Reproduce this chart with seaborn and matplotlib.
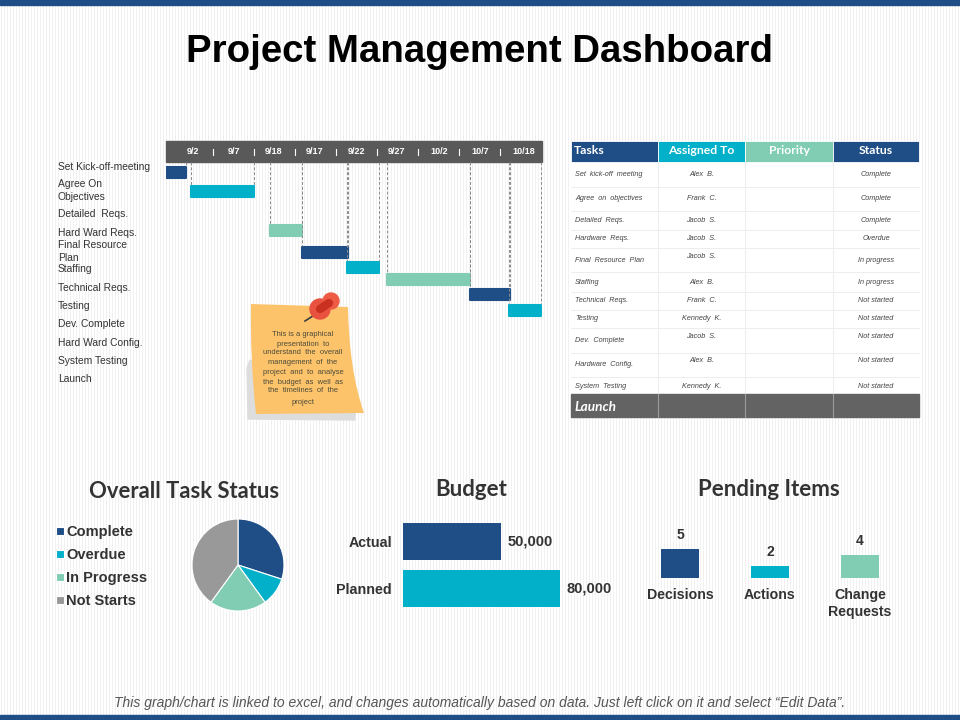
import matplotlib
matplotlib.use('Agg')
import matplotlib.pyplot as plt
from matplotlib.patches import Rectangle, Circle, PathPatch, Polygon
from matplotlib.path import Path
import seaborn as sns

NAVY = '#1F4E87'
TEAL = '#03B0C9'
MINT = '#80CDB3'
GREY = '#999999'
DARK = '#595959'
BG = '#FFFFFF'
STRIPE = '#F1F1F1'
BODY = 'Liberation Sans'
HEAD = 'Lato'

# gantt data, x values are in header columns
gantt_tasks = ["Set Kick-off-meeting", "Agree On\nObjectives", "Detailed  Reqs.", "Hard Ward Reqs.",
               "Final Resource\nPlan", "Staffing", "Technical Reqs.", "Testing", "Dev. Complete",
               "Hard Ward Config.", "System Testing", "Launch"]
gantt_dates = ["9/2", "9/7", "9/18", "9/17", "9/22", "9/27", "10/2", "10/7", "10/18"]
gantt_start = [0.0, 0.6, 2.5, 3.25, 4.33, 5.3, 7.27, 8.2]
gantt_end = [0.48, 2.1, 3.26, 4.36, 5.1, 7.27, 8.23, 8.97]
gantt_colors = [NAVY, TEAL, MINT, NAVY, TEAL, MINT, NAVY, TEAL]

# table data
table_header = ["Tasks", "Assigned To", "Priority", "Status"]
table_tasks = ["Set  kick-off  meeting", "Agree  on  objectives", "Detailed  Reqs.", "Hardware  Reqs.",
               "Final  Resource  Plan", "Staffing", "Technical  Reqs.", "Testing", "Dev.  Complete",
               "Hardware  Config.", "System  Testing"]
table_people = ["Alex  B.", "Frank  C.", "Jacob  S.", "Jacob  S.", "Jacob  S.", "Alex  B.", "Frank  C.",
                "Kennedy  K.", "Jacob  S.", "Alex  B.", "Kennedy  K."]
table_status = ["Complete", "Complete", "Complete", "Overdue", "In progress", "In progress", "Not started",
                "Not started", "Not started", "Not started", "Not started"]

# lower charts
status_labels = ["Complete", "Overdue", "In Progress", "Not Starts"]
status_values = [30, 10, 20, 40]
budget_labels = ["Actual", "Planned"]
budget_values = [50000, 80000]
pending_labels = ["Decisions", "Actions", "Change\nRequests"]
pending_values = [5, 2, 4]

note_lines = ["This is a graphical", "presentation  to", "understand  the  overall", "management  of  the",
              "project  and  to  analyse", "the  budget  as  well  as", "the  timelines  of  the", "project"]

# layout, all in reference pixels
gantt_label_y = [166.5, 190.5, 214, 233, 251.5, 269, 288, 306, 324, 343, 361, 379]
gantt_bar_y = [172, 191, 230, 252, 267, 279, 294, 310]
date_x = [193, 234, 274, 315, 356, 397, 439, 480, 524]
sep_x = [213, 254, 295, 336, 377, 418, 459, 500]
col_x = [571, 658, 745, 833, 919]
row_y = [162, 187, 211, 230, 248, 272, 292, 310, 328, 353, 377, 394, 417]
task_y = [175, 199, 221, 239, 261, 282, 301, 319, 341, 365, 386]
people_y = [175, 199, 221, 239, 256, 282, 301, 319, 336, 360, 386]
status_y = [175, 199, 221, 239, 261, 282, 301, 319, 336, 360, 386]
note_y = [334, 344, 353, 363, 372, 382, 391, 402]


def px_axes(fig, left, top, right, bottom):
    # axes box given in pixels from the top left corner
    ax = fig.add_axes([left / 960, 1 - bottom / 720, (right - left) / 960, (bottom - top) / 720])
    ax.patch.set_alpha(0)
    return ax


def draw_background(ax):
    # faint slide texture, has to stay under every other mark
    ax.vlines(range(1, 960, 3), 0, 720, color=STRIPE, lw=0.72, zorder=0)
    ax.add_patch(Rectangle((0, 0), 960, 5, color=NAVY))
    ax.add_patch(Rectangle((0, 715), 960, 5, color=NAVY))
    ax.text(480, 52, "Project Management Dashboard", ha='center', va='center', fontsize=27.6,
            fontweight='bold', family=BODY, color='black')
    ax.text(184, 491, "Overall Task Status", ha='center', va='center', fontsize=15.8, fontweight='bold',
            family=HEAD, color='#333333')
    ax.text(471, 490, "Budget", ha='center', va='center', fontsize=16, fontweight='bold',
            family=HEAD, color='#333333')
    ax.text(769, 490, "Pending Items", ha='center', va='center', fontsize=16, fontweight='bold',
            family=HEAD, color='#333333')
    ax.text(480, 703, "This graph/chart is linked to excel, and changes automatically based on data. "
            "Just left click on it and select \u201cEdit Data\u201d.", ha='center', va='center',
            fontsize=10, style='italic', family=BODY, color='#555555')


def draw_gantt_labels(ax):
    ax.add_patch(Rectangle((166, 141), 376, 21, color=DARK))
    for x, label in zip(date_x, gantt_dates):
        ax.text(x, 152, label, ha='center', va='center', fontsize=6.5, fontweight='bold',
                family=BODY, color='white')
    for x in sep_x:
        ax.plot([x, x], [149, 155], color='white', lw=0.8)
    for y, label in zip(gantt_label_y, gantt_tasks):
        ax.text(58, y, label, ha='left', va='center', fontsize=7.4, family=BODY, color='#333333',
                linespacing=1.38)


def draw_gantt(fig):
    ax = px_axes(fig, 166, 162, 542, 320)
    for y, start, end, color in zip(gantt_bar_y, gantt_start, gantt_end, gantt_colors):
        sns.barplot(x=[end - start], y=[y], orient='y', native_scale=True, left=start, color=color,
                    saturation=1, width=11, errorbar=None, ax=ax)
    for patch in ax.patches:
        patch.set(edgecolor=patch.get_facecolor(), linewidth=1.5, joinstyle='round')
    for i, y in enumerate(gantt_bar_y):
        xs = [gantt_end[i]] if i == 0 else [gantt_start[i], gantt_end[i]]
        ax.vlines(xs, 162, y - 6, color='#8C8C8C', lw=0.7, linestyles=(0, (3, 2)))
    ax.set_xlim(0, 9)
    ax.set_ylim(320, 162)
    ax.axis('off')


def draw_note(ax):
    ax.add_patch(Polygon([(250, 360), (247, 368), (248, 419), (355, 420), (355, 405)], color='#DDDDDD'))
    verts = [(251, 304), (348, 307), (349, 370), (364, 413), (256, 414), (250, 360), (251, 304)]
    codes = [Path.MOVETO, Path.LINETO, Path.CURVE3, Path.CURVE3, Path.LINETO, Path.CURVE3, Path.CURVE3]
    ax.add_patch(PathPatch(Path(verts, codes), facecolor='#FDC36A', edgecolor='none'))
    ax.plot([305, 316], [321, 314], color='#3F3F3F', lw=1.2)
    ax.add_patch(Circle((320, 309), 10, color='#E8523F', zorder=3))
    ax.add_patch(Circle((331, 301), 8, color='#EE5B45', zorder=3))
    ax.plot([320, 329], [309, 303], color='#C9301F', lw=6, zorder=4, solid_capstyle='round')
    for y, line in zip(note_y, note_lines):
        ax.text(303, y, line, ha='center', va='center', fontsize=5.4, family=BODY, color='#4A4A3A')


def draw_table(ax):
    ax.add_patch(Rectangle((571, 162), 348, 232, color='white'))
    for i, color in enumerate([NAVY, TEAL, MINT, NAVY]):
        ax.add_patch(Rectangle((col_x[i], 141), col_x[i + 1] - col_x[i], 21, facecolor=color,
                               edgecolor='white', lw=0.6))
    ax.text(574, 151, table_header[0], ha='left', va='center', fontsize=8.8, fontweight='bold',
            family=HEAD, color='white')
    for i in (1, 2, 3):
        ax.text((col_x[i] + col_x[i + 1]) / 2, 151, table_header[i], ha='center', va='center', fontsize=8.8,
                fontweight='bold', family=HEAD, color='white')
    for y in row_y[1:-2]:
        ax.plot([571, 919], [y, y], color='#EDEDED', lw=0.7)
    for x in col_x[1:-1]:
        ax.plot([x, x], [162, 394], color='#EDEDED', lw=0.7)
    ax.add_patch(Rectangle((571, 394), 348, 23, color='#636363'))
    for x in col_x[1:-1]:
        ax.plot([x, x], [394, 417], color='#9A9A9A', lw=0.8)
    ax.text(574, 407, "Launch", ha='left', va='center', fontsize=9.8, fontweight='bold', style='italic',
            family=HEAD, color='white')
    for i in range(len(table_tasks)):
        ax.text(575, task_y[i], table_tasks[i], ha='left', va='center', fontsize=5.2, style='italic',
                family=BODY, color='#444444')
        ax.text(701.5, people_y[i], table_people[i], ha='center', va='center', fontsize=5.2, style='italic',
                family=BODY, color='#444444')
        ax.text(876, status_y[i], table_status[i], ha='center', va='center', fontsize=5.2, style='italic',
                family=BODY, color='#444444')


def draw_pie(fig):
    ax = px_axes(fig, 192, 519, 284, 611)
    wedges, _ = ax.pie(status_values, colors=[NAVY, TEAL, MINT, GREY], startangle=90, counterclock=False,
                       wedgeprops={'edgecolor': 'white', 'linewidth': 0.8})
    ax.set_xlim(-1, 1)
    ax.set_ylim(-1, 1)
    fig.legend(wedges, status_labels, loc='upper left', bbox_to_anchor=(43 / 960, 1 - 512 / 720), frameon=False,
               handlelength=0.55, handleheight=0.55, handletextpad=0.12, labelspacing=0.62,
               prop={'family': BODY, 'weight': 'bold', 'size': 10.5}, labelcolor='#333333')


def draw_budget(fig):
    ax = px_axes(fig, 403, 518, 607, 612)
    sns.barplot(x=budget_values, y=budget_labels, hue=budget_labels, palette=[NAVY, TEAL], saturation=1,
                width=0.79, legend=False, errorbar=None, ax=ax)
    for container in ax.containers:
        ax.bar_label(container, fmt='{:,.0f}', padding=4.5, fontsize=10.5, fontweight='bold', family=BODY,
                     color='#333333')
    ax.set_xlim(0, 104000)
    ax.set_xlabel('')
    ax.set_ylabel('')
    ax.set_xticks([])
    ax.tick_params(axis='y', length=0, pad=8)
    for label in ax.get_yticklabels():
        label.set(family=BODY, fontweight='bold', fontsize=10.3, color='#333333')
    sns.despine(ax=ax, left=True, bottom=True)


def draw_pending(fig):
    ax = px_axes(fig, 635, 549, 905, 578)
    sns.barplot(x=pending_labels, y=pending_values, hue=pending_labels, palette=[NAVY, TEAL, MINT], saturation=1,
                width=0.42, legend=False, errorbar=None, ax=ax)
    for container in ax.containers:
        ax.bar_label(container, padding=5, fontsize=10, fontweight='bold', family=BODY, color='#333333')
    ax.set_ylim(0, 5)
    ax.set_xlabel('')
    ax.set_ylabel('')
    ax.set_yticks([])
    ax.tick_params(axis='x', length=0, pad=7.5)
    for label in ax.get_xticklabels():
        label.set(family=BODY, fontweight='bold', fontsize=10.2, color='#333333', linespacing=1.2)
    sns.despine(ax=ax, left=True, bottom=True)


def main():
    fig = plt.figure(figsize=(9.6, 7.2), dpi=100, facecolor=BG)
    page = fig.add_axes([0, 0, 1, 1])
    page.set_xlim(0, 960)
    page.set_ylim(720, 0)
    page.axis('off')

    draw_background(page)
    draw_gantt_labels(page)
    draw_note(page)
    draw_table(page)
    draw_gantt(fig)
    draw_pie(fig)
    draw_budget(fig)
    draw_pending(fig)

    fig.savefig('out.png', dpi=100, facecolor=BG)
    plt.close(fig)


if __name__ == '__main__':
    main()
